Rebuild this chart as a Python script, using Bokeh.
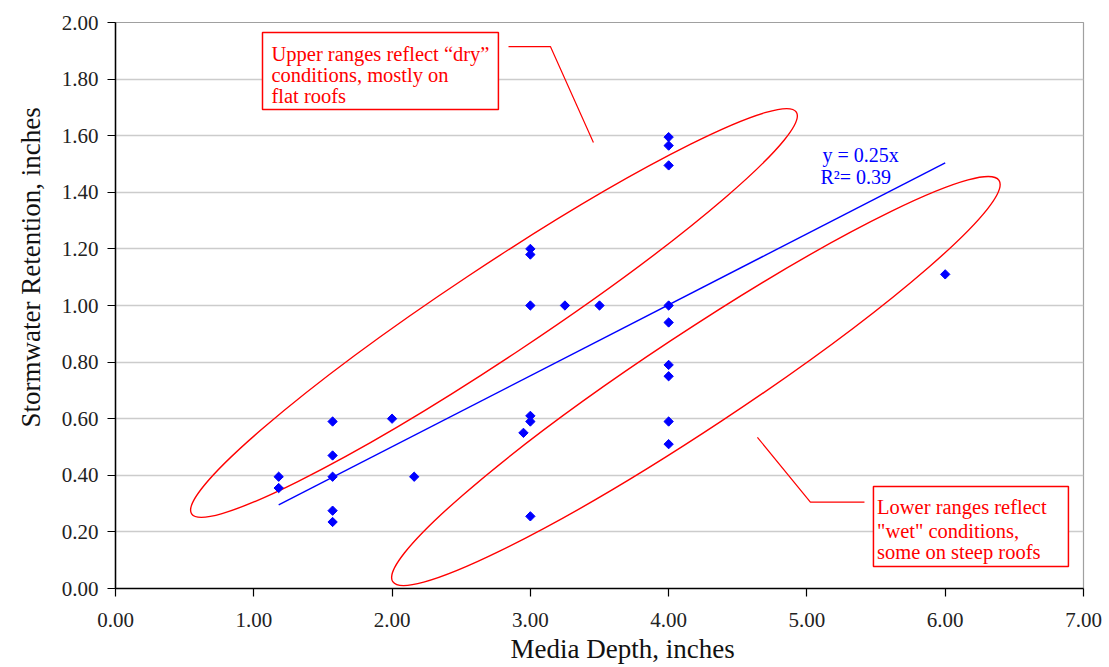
import numpy as np
from bokeh.plotting import figure
from bokeh.models import Range1d, FixedTicker, NumeralTickFormatter, Label, BoxAnnotation, Title
from bokeh.embed import file_html
from bokeh.resources import INLINE

# ---------------- data ----------------
depth = [1.18, 1.18,
         1.57, 1.57, 1.57, 1.57, 1.57,
         2.00, 2.16, 2.95,
         3.00, 3.00, 3.00, 3.00, 3.00, 3.00,
         3.25, 3.50,
         4.00, 4.00, 4.00, 4.00, 4.00, 4.00, 4.00, 4.00, 4.00,
         6.00]
retention = [0.395, 0.355,
             0.59, 0.47, 0.395, 0.275, 0.235,
             0.60, 0.395, 0.55,
             1.20, 1.18, 1.00, 0.61, 0.59, 0.255,
             1.00, 1.00,
             1.595, 1.565, 1.495, 1.00, 0.94, 0.79, 0.75, 0.59, 0.51,
             1.11]
x_ticks = [0, 1, 2, 3, 4, 5, 6, 7]
y_ticks = [0.0, 0.2, 0.4, 0.6, 0.8, 1.0, 1.2, 1.4, 1.6, 1.8, 2.0]
eq_text = "y = 0.25x"
r2_text = "R\u00b2= 0.39"
upper_note = ["Upper ranges reflect \u201cdry\u201d", "conditions, mostly on", "flat roofs"]
lower_note = ["Lower ranges reflect", "\"wet\" conditions,", "some on steep roofs"]
x_title = "Media Depth, inches"
y_title = "Stormwater Retention, inches"

# linear fit through origin
xa = np.array(depth)
ya = np.array(retention)
slope = float((xa * ya).sum() / (xa * xa).sum())
fit_x = [xa.min(), xa.max()]
fit_y = [slope * v for v in fit_x]

SERIF = "Liberation Serif"
RED = "#ff0000"
BLUE = "#0000ff"

p = figure(width=1105, height=667, output_backend="svg", toolbar_location=None,
           x_range=Range1d(0, 7), y_range=Range1d(0, 2),
           min_border_left=115, min_border_right=22, min_border_top=22, min_border_bottom=79)
p.background_fill_color = "white"
p.border_fill_color = "white"
p.outline_line_color = "#a0a0a0"
p.outline_line_width = 1.2

for ax in (p.xaxis[0], p.yaxis[0]):
    ax.axis_line_color = "black"
    ax.axis_line_width = 1.5
    ax.major_tick_line_color = "black"
    ax.major_tick_line_width = 1.2
    ax.major_tick_in = 0
    ax.major_tick_out = 8
    ax.minor_tick_in = 0
    ax.minor_tick_out = 0
    ax.major_label_text_font = SERIF
    ax.major_label_text_font_size = "21px"
    ax.major_label_text_color = "#222222"
    ax.formatter = NumeralTickFormatter(format="0.00")

p.xaxis.ticker = FixedTicker(ticks=x_ticks)
p.yaxis.ticker = FixedTicker(ticks=y_ticks)
p.xaxis.major_label_standoff = 16
p.yaxis.major_label_standoff = 9
p.xgrid.grid_line_color = None
p.ygrid.ticker = FixedTicker(ticks=y_ticks)
p.ygrid.grid_line_color = "#cccccc"
p.ygrid.grid_line_width = 1.5

# axis titles (side panels so they are not clipped by the frame)
p.add_layout(Title(text=x_title, align="left", offset=395, text_font=SERIF,
                   text_font_size="27px", text_font_style="normal", text_color="#111111",
                   text_line_height=0.8, standoff=4), "below")
p.add_layout(Title(text=y_title, align="left", offset=161, text_font=SERIF,
                   text_font_size="27px", text_font_style="normal", text_color="#111111",
                   text_line_height=0.8, standoff=22, vertical_align="top"), "left")

# ellipses (screen-sized, centred in data space)
p.ellipse(x=[2.737], y=[0.9735], width=[726], height=[90], angle=[np.deg2rad(33.6)],
          width_units="screen", height_units="screen",
          fill_color=None, line_color=RED, line_width=1.4)
p.ellipse(x=[4.197], y=[0.733], width=[727], height=[95], angle=[np.deg2rad(33.5)],
          width_units="screen", height_units="screen",
          fill_color=None, line_color=RED, line_width=1.4)

# trend line
p.line(fit_x, fit_y, line_color=BLUE, line_width=1.4)

# points
p.scatter(depth, retention, marker="square", angle=np.pi / 4, size=6.6,
          fill_color=BLUE, line_color=BLUE)

# leader lines
p.line([2.842, 3.145, 3.456], [1.915, 1.915, 1.576], line_color=RED, line_width=1.2)
p.line([5.416, 5.025, 4.642], [0.305, 0.305, 0.534], line_color=RED, line_width=1.2)

# callout boxes
p.add_layout(BoxAnnotation(left=1.063, right=2.769, top=1.965, bottom=1.693,
                           fill_color="white", fill_alpha=1.0,
                           line_color=RED, line_width=1.5, line_alpha=1.0))
p.add_layout(BoxAnnotation(left=5.481, right=6.891, top=0.360, bottom=0.0777,
                           fill_color="white", fill_alpha=1.0,
                           line_color=RED, line_width=1.5, line_alpha=1.0))

for txt, yy in zip(upper_note, [1.890, 1.813, 1.739]):
    p.add_layout(Label(x=1.128, y=yy, text=txt, text_font=SERIF, text_font_size="20.5px",
                       text_color=RED, text_baseline="alphabetic", text_align="left"))
for txt, yy in zip(lower_note, [0.287, 0.2025, 0.128]):
    p.add_layout(Label(x=5.507, y=yy, text=txt, text_font=SERIF, text_font_size="20.5px",
                       text_color=RED, text_baseline="alphabetic", text_align="left"))

p.add_layout(Label(x=5.112, y=1.532, text=eq_text, text_font=SERIF, text_font_size="20px",
                   text_color=BLUE, text_baseline="alphabetic", text_align="left"))
p.add_layout(Label(x=5.098, y=1.453, text=r2_text, text_font=SERIF, text_font_size="20px",
                   text_color=BLUE, text_baseline="alphabetic", text_align="left"))

open("out.html", "w").write(file_html(p, INLINE))
